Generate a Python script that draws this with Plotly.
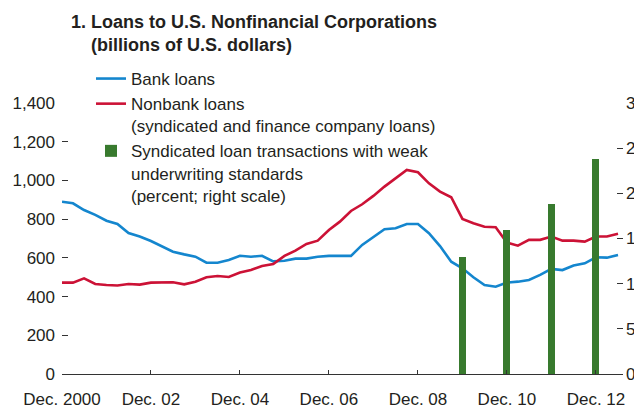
import plotly.graph_objects as go

# Quarter-end dates, Dec 2000 .. Jun 2013
_month_days = [("12", "31"), ("03", "31"), ("06", "30"), ("09", "30")]
quarters = []
for k in range(51):
    y = 2000 + (k + 3) // 4
    m, d = _month_days[k % 4]
    quarters.append(f"{y}-{m}-{d}")

bank_loans = [890, 882, 847, 822, 792, 775, 728, 710, 687, 661, 632, 618,
              606, 575, 575, 589, 611, 606, 611, 582, 585, 596, 596, 606,
              610, 610, 610, 667, 710, 748, 753, 775, 775, 727, 661, 580,
              546, 500, 460, 451, 472, 477, 486, 512, 543, 537, 560, 572,
              603, 601, 615]

nonbank_loans = [472, 472, 494, 465, 460, 457, 465, 462, 472, 472, 474, 463,
                 477, 500, 506, 501, 524, 537, 558, 568, 610, 637, 672, 689,
                 744, 787, 842, 877, 920, 968, 1011, 1054, 1042, 985, 942, 913,
                 801, 779, 761, 758, 679, 663, 693, 693, 710, 689, 689, 684,
                 710, 710, 724]

bar_dates = ["2009-12-31", "2010-12-31", "2011-12-31", "2012-12-31"]
weak_share = [12.9, 15.9, 18.8, 23.8]

x_tickvals = ["2000-12-31", "2002-12-31", "2004-12-31", "2006-12-31",
              "2008-12-31", "2010-12-31", "2012-12-31"]
x_ticktext = ["Dec. 2000", "Dec. 02", "Dec. 04", "Dec. 06", "Dec. 08",
              "Dec. 10", "Dec. 12"]
y_tickvals = [0, 200, 400, 600, 800, 1000, 1200, 1400]
y_ticktext = ["0", "200", "400", "600", "800", "1,000", "1,200", "1,400"]
y2_tickvals = [0, 5, 10, 15, 20, 25, 30]
y2_ticktext = ["0", "5", "10", "15", "20", "25", "30"]

title_text = ("<b>1. Loans to U.S. Nonfinancial Corporations<br>"
              "&nbsp;&nbsp;&nbsp;&nbsp;(billions of U.S. dollars)</b>")

BLUE = "#1486CE"
RED = "#CC1236"
GREEN = "#387A2E"
TEXT = "#231F20"
AXIS = "#333333"
FONT = "Liberation Sans, Arial, sans-serif"

W, H = 634, 408
ML, MR, MT, MB = 62, 11, 103, 34
PW, PH = W - ML - MR, H - MT - MB


def px_x(x):
    return (x - ML) / PW


def px_y(y):
    return (H - MB - y) / PH


fig = go.Figure()
fig.add_trace(go.Scatter(x=quarters, y=bank_loans, mode="lines",
                         name="Bank loans",
                         line=dict(color=BLUE, width=2.6)))
fig.add_trace(go.Scatter(x=quarters, y=nonbank_loans, mode="lines",
                         name="Nonbank loans<br>(syndicated and finance company loans)",
                         line=dict(color=RED, width=2.6)))
fig.add_trace(go.Bar(x=bar_dates, y=weak_share, yaxis="y2",
                     name="Syndicated loan transactions with weak<br>underwriting standards<br>(percent; right scale)",
                     marker=dict(color=GREEN, line=dict(width=0)),
                     width=57 * 86400000))

fig.add_annotation(
    text=title_text, xref="paper", yref="paper",
    x=px_x(69), y=px_y(10), xanchor="left", yanchor="top",
    align="left", showarrow=False,
    font=dict(family=FONT, size=18, color=TEXT),
)

fig.update_layout(
    width=W, height=H,
    margin=dict(l=ML, r=MR, t=MT, b=MB, autoexpand=False),
    paper_bgcolor="white", plot_bgcolor="white",
    font=dict(family=FONT, size=17, color=TEXT),
    showlegend=True,
    legend=dict(
        x=px_x(91), xanchor="left", y=px_y(61), yanchor="top",
        bgcolor="rgba(0,0,0,0)", borderwidth=0,
        font=dict(family=FONT, size=17, color=TEXT),
        itemwidth=30, valign="top", tracegroupgap=0,
        traceorder="normal",
    ),
    xaxis=dict(
        type="date", automargin=False,
        range=["2000-12-31", "2013-08-10"],
        tickvals=x_tickvals, ticktext=x_ticktext,
        showline=True, linecolor=AXIS, linewidth=1.3,
        ticks="inside", ticklen=4, tickcolor=AXIS, tickwidth=1.3,
        ticklabelstandoff=9,
        showgrid=False, zeroline=False,
        tickfont=dict(size=17, color=TEXT),
    ),
    yaxis=dict(
        range=[0, 1400], automargin=False,
        tickvals=y_tickvals, ticktext=y_ticktext,
        showline=False, showgrid=False, zeroline=False,
        ticks="inside", ticklen=6, tickcolor=AXIS, tickwidth=1.3,
        ticklabelstandoff=6,
        tickfont=dict(size=17, color=TEXT),
    ),
    yaxis2=dict(
        range=[0, 30], overlaying="y", side="right", automargin=False,
        tickvals=y2_tickvals, ticktext=y2_ticktext,
        showline=False, showgrid=False, zeroline=False,
        ticks="inside", ticklen=6, tickcolor=AXIS, tickwidth=1.3,
        ticklabelstandoff=2,
        tickfont=dict(size=17, color=TEXT),
    ),
    bargap=0,
)

fig.write_html("out.html",
               config={"displayModeBar": False},
               post_script="document.body.style.margin='0';"
                           "document.body.style.padding='0';")
